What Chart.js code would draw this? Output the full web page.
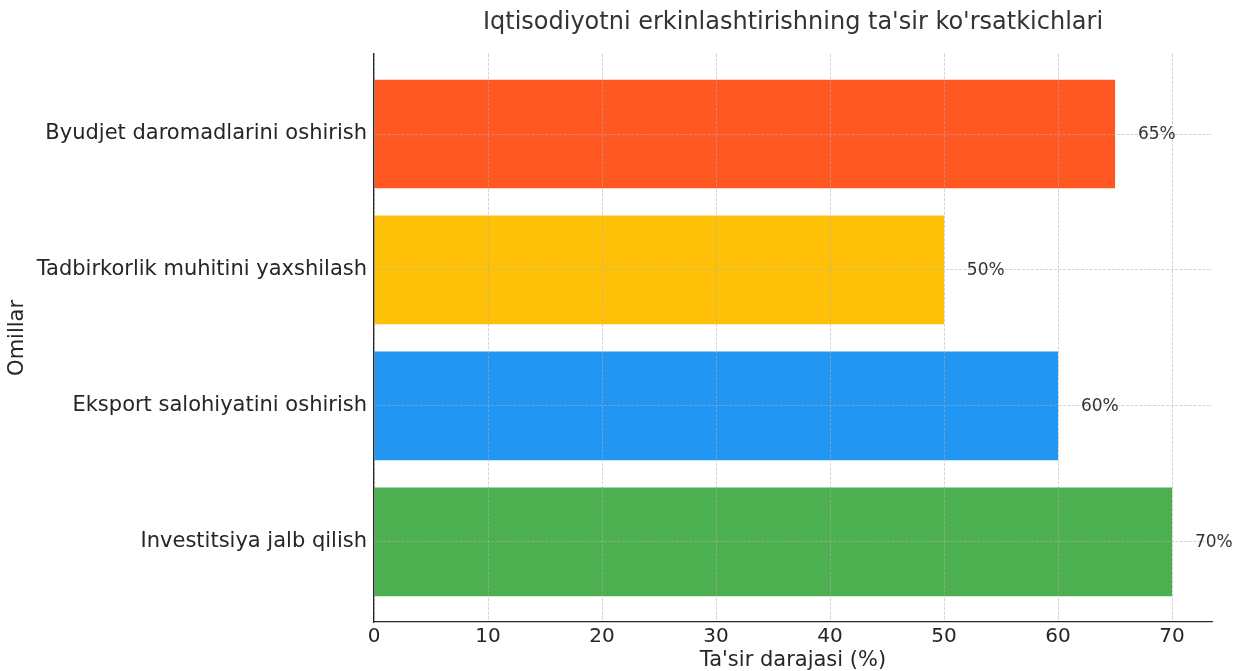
<!DOCTYPE html>
<html>
<head>
<meta charset="utf-8">
<script src="https://cdn.jsdelivr.net/npm/chart.js@4.4.1/dist/chart.umd.min.js"></script>
<style>
  html, body { margin: 0; padding: 0; background: #fff; }
  canvas { display: block; }
</style>
</head>
<body>
<canvas id="impactChart" width="1238" height="671"></canvas>
<script>
// bottom to top, as in the picture
var factors = [
    'Investitsiya jalb qilish',
    'Eksport salohiyatini oshirish',
    'Tadbirkorlik muhitini yaxshilash',
    'Byudjet daromadlarini oshirish'
];
var impact = [70, 60, 50, 65];
var barColors = ['#4CAF50', '#2196F3', '#FFC107', '#FF5722'];
var xTicks = [0, 10, 20, 30, 40, 50, 60, 70];

var fontFamily = '"DejaVu Sans", sans-serif';
var textColor = '#262626';
var gridColor = 'rgba(176, 176, 176, 0.7)';

// percent labels next to each bar end
var valueLabels = {
    id: 'valueLabels',
    afterDraw: function(chart) {
        var ctx = chart.ctx;
        var xs = chart.scales.x, ys = chart.scales.y;
        ctx.save();
        ctx.font = '17px ' + fontFamily;
        ctx.fillStyle = '#333333';
        ctx.textAlign = 'left';
        ctx.textBaseline = 'middle';
        impact.forEach(function(v, i) {
            ctx.fillText(v + '%', xs.getPixelForValue(v + 2), ys.getPixelForValue(i) + 1);
        });
        ctx.restore();
    }
};

document.addEventListener('DOMContentLoaded', function() {
    var ctx = document.getElementById('impactChart').getContext('2d');
    var myChart = new Chart(ctx, {
        type: 'bar',
        data: {
            datasets: [{
                data: impact.map(function(v, i) { return {x: v, y: i}; }),
                backgroundColor: barColors,
                borderWidth: 0,
                categoryPercentage: 1.0,
                barPercentage: 0.8
            }]
        },
        options: {
            indexAxis: 'y',
            responsive: false,
            animation: false,
            layout: { padding: { left: 0, right: 26, top: 0, bottom: 0 } },
            scales: {
                x: {
                    type: 'linear',
                    min: 0,
                    max: 73.5,
                    afterBuildTicks: function(axis) {
                        axis.ticks = xTicks.map(function(v) { return {value: v}; });
                    },
                    afterFit: function(axis) { axis.height = 49; },
                    grid: {
                        z: 1,
                        color: gridColor,
                        lineWidth: 0.8,
                        drawTicks: false
                    },
                    border: { display: true, z: 1, color: '#262626', width: 1.3, dash: [3, 1.5] },
                    ticks: {
                        color: textColor,
                        padding: 3,
                        font: { family: fontFamily, size: 20 }
                    },
                    title: {
                        display: true,
                        text: "Ta'sir darajasi (%)",
                        color: textColor,
                        padding: { top: 0, bottom: 0 },
                        font: { family: fontFamily, size: 21, lineHeight: 1 }
                    }
                },
                y: {
                    type: 'linear',
                    min: -0.59,
                    max: 3.59,
                    offset: false,
                    afterBuildTicks: function(axis) {
                        axis.ticks = factors.map(function(f, i) { return {value: i}; });
                    },
                    afterFit: function(axis) { axis.width = 374; },
                    grid: {
                        z: 1,
                        offset: false,
                        color: gridColor,
                        lineWidth: 0.8,
                        drawTicks: false
                    },
                    border: { display: true, z: 1, color: '#262626', width: 1.3, dash: [3, 1.5] },
                    ticks: {
                        color: textColor,
                        padding: 7,
                        font: { family: fontFamily, size: 21 },
                        callback: function(value) { return factors[value]; }
                    },
                    title: {
                        display: true,
                        text: 'Omillar',
                        color: textColor,
                        padding: { top: 5, bottom: 0 },
                        font: { family: fontFamily, size: 21 }
                    }
                }
            },
            plugins: {
                legend: { display: false },
                tooltip: { enabled: false },
                title: {
                    display: true,
                    fullSize: false,
                    text: "Iqtisodiyotni erkinlashtirishning ta'sir ko'rsatkichlari",
                    color: '#333333',
                    padding: { top: 8, bottom: 17 },
                    font: { family: fontFamily, size: 24, weight: 'normal' }
                }
            }
        },
        plugins: [valueLabels]
    });
});
</script>
</body>
</html>
